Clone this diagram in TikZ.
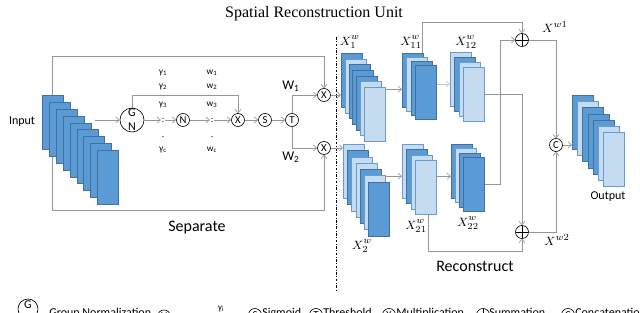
\documentclass[tikz,border=0pt]{standalone}
\usepackage{fontspec}
\setmainfont{Liberation Serif}
\setsansfont{Carlito}
\usetikzlibrary{arrows.meta,positioning}
\usepackage{xcolor}
\definecolor{mapdark}{RGB}{91,155,213}
\definecolor{mapdarkline}{RGB}{65,113,156}
\definecolor{maplight}{RGB}{197,220,240}
\definecolor{maplightline}{RGB}{105,155,205}
\definecolor{wiregray}{RGB}{150,150,150}
\tikzset{
    fmap/.style={
        draw=#1line,fill=#1,line width=0.6pt,inner sep=0pt,
        minimum width=15.75pt,minimum height=40.5pt,anchor=north west
    },
    fmd/.style={fmap=mapdark},
    fml/.style={fmap=maplight},
    op/.style={
        circle,draw=black,fill=white,line width=0.5pt,inner sep=0pt,
        minimum size=9.75pt,font=\sffamily\fontsize{8}{9}\selectfont
    },
    sumop/.style={
        op,path picture={
            \draw[line width=0.5pt] (path picture bounding box.north) -- (path picture bounding box.south)
                (path picture bounding box.west) -- (path picture bounding box.east);
        }
    },
    wire/.style={draw=wiregray,line width=0.5pt},
    arrow/.style={wire,-{Straight Barb[length=2.5pt,width=4.5pt]}},
    lab/.style={font=\sffamily\fontsize{9}{11}\selectfont,inner sep=1pt},
    biglab/.style={font=\sffamily\fontsize{12}{14}\selectfont,inner sep=1pt},
    coef/.style={font=\sffamily\fontsize{7}{8}\selectfont,inner sep=0.5pt},
    xlab/.style={font=\fontsize{9.5}{10}\selectfont,inner sep=0.5pt},
    legtext/.style={font=\sffamily\fontsize{9}{11}\selectfont,inner sep=0pt,anchor=base west}
}
% stack of feature maps: name, x, y, dx, dy, colours (d/l)
\newcommand{\mapstack}[6]{%
    \foreach \c [count=\i] in {#6}
        \node[fm\c] (#1-\i) at ({#2+(\i-1)*#4},{#3+(\i-1)*#5}) {};
}

\begin{document}
\begin{tikzpicture}[x=0.75pt,y=-0.75pt]
\useasboundingbox (0,0) rectangle (640,313);
\clip (0,0) rectangle (640,313);

\node[font=\fontsize{12}{14}\selectfont,anchor=base] (title) at (314,18) {Spatial Reconstruction Unit};

% separator
\coordinate (sepT) at (336,37);
\coordinate (sepB) at (336,290);
\draw[black,line width=0.5pt,dash pattern=on 2pt off 1.2pt on 0.5pt off 1.2pt] (sepT) -- (sepB);

% ---- Separate ----
\coordinate (boxTL) at (52,56);
\coordinate (boxBL) at (52,210);
\draw[wire] (boxTL) -- (boxBL);
\node[op] (mulA) at (324,95) {X};
\node[op] (mulB) at (324,148) {X};
\draw[arrow] (boxTL) -| (mulA);
\draw[arrow] (boxBL) -| (mulB);

\mapstack{inp}{42}{95}{6.9}{6.9}{d,d,d,d,d,d,d,d,d}
\node[lab] (inplab) at (22,122) {Input};

\node[op,minimum size=18pt] (gn) at (132,120) {};
\node[lab,inner sep=0pt] (gnG) at (132,113) {G};
\node[lab,inner sep=0pt] (gnN) at (132,127) {N};
\coordinate (inpR) at (95,120);
\draw[arrow] (inpR) -- (gn);

\node[coef] (g1) at (163,73) {γ\textsubscript{1}};
\node[coef] (g2) at (163,87) {γ\textsubscript{2}};
\node[coef] (g3) at (163,105) {γ\textsubscript{3}};
\node[coef] (gdots) at (163,120) {:};
\node[coef] (gdot) at (163,137) {.};
\node[coef] (gc) at (163,150) {γ\textsubscript{c}};

\node[coef] (w1) at (212,73) {w\textsubscript{1}};
\node[coef] (w2) at (212,87) {w\textsubscript{2}};
\node[coef] (w3) at (212,105) {w\textsubscript{3}};
\node[coef] (wdots) at (212,120) {:};
\node[coef] (wdot) at (212,137) {.};
\node[coef] (wc) at (212,150) {w\textsubscript{c}};

\node[op] (nrm) at (183,120) {N};
\node[op] (mul) at (238,120) {X};
\node[op] (sig) at (265,120) {S};
\node[op] (thr) at (292,120) {T};

\draw[arrow] (gn) -- (gdots);
\draw[arrow] (gdots) -- (nrm);
\draw[arrow] (nrm) -- (wdots);
\draw[arrow] (wdots) -- (mul);
\draw[arrow] (mul) -- (sig);
\draw[arrow] (sig) -- (thr);
\coordinate (gnup) at (132,95);
\draw[arrow] (gn) -- (gnup) -| (mul);

\draw[arrow] (thr) |- (mulA);
\draw[arrow] (thr) |- (mulB);
\node[lab,font=\sffamily\fontsize{10}{12}\selectfont] (w1lab) at (291,86) {W\textsubscript{1}};
\node[lab,font=\sffamily\fontsize{10}{12}\selectfont] (w2lab) at (291,157) {W\textsubscript{2}};
\node[biglab] (seplab) at (197,228) {Separate};

% ---- Reconstruct ----
\mapstack{xone}{341}{53}{3.8}{5.7}{d,l,d,d,d,l,l}
\mapstack{xonea}{402}{53}{4.3}{4}{d,l,d,d}
\mapstack{xoneb}{450}{52}{4.3}{5}{l,d,l,l}
\mapstack{xtwo}{343}{144}{4.2}{6.3}{l,d,l,l,d,l,d}
\mapstack{xtwoa}{402}{144}{4.3}{5.3}{l,d,l,l}
\mapstack{xtwob}{451}{144}{4}{4.3}{d,l,d,d}
\mapstack{outp}{572}{95}{5.2}{6.2}{d,l,d,d,d,l,l}

\draw[arrow] (mulA) -- (mulA -| xone-1.west);
\draw[arrow] (mulB) -- (mulB -| xtwo-1.west);

\coordinate (a1) at ([yshift=-1.5pt]xone-7.north east);
\draw[arrow] (a1) -- (a1 -| xonea-1.west);
\coordinate (a2) at ([yshift=6.4pt]xonea-4.east);
\draw[arrow,draw=wiregray!55] (a2) -- (a2 -| xoneb-1.west);
\coordinate (b1) at ([yshift=-0.5pt]xtwo-6.north east);
\draw[arrow] (b1) -- (b1 -| xtwoa-1.west);
\coordinate (b2) at ([yshift=8.25pt]xtwoa-4.east);
\draw[arrow] (b2) -- (b2 -| xtwob-1.west);

\node[sumop] (sumA) at (522,40) {};
\node[sumop] (sumB) at (522,232) {};
\node[op] (cat) at (556,145) {C};

\draw[arrow] ([xshift=-1pt]xonea-1.north east) -- ++(0,-31) -| (sumA);
\draw[arrow] (xoneb-4.east) -| (sumB);
\draw[arrow] (xtwob-4.east) -- ++(16,0) |- (sumA);
\draw[arrow] ([xshift=2pt]xtwoa-4.south) -- ++(0,37) -| (sumB);
\draw[arrow] (sumA) -| (cat);
\draw[arrow] (sumB) -| (cat);
\draw[arrow] (cat) -- (cat -| outp-1.west);

\node[xlab] (xonelab) at (350,42) {$X_1^w$};
\node[xlab] (xonealab) at (411,42) {$X_{11}^w$};
\node[xlab] (xoneblab) at (466,42) {$X_{12}^w$};
\node[xlab] (xtwolab) at (362,246) {$X_2^w$};
\node[xlab] (xtwoalab) at (416,226) {$X_{21}^w$};
\node[xlab] (xtwoblab) at (468,223) {$X_{22}^w$};
\node[xlab] (xwonelab) at (555,27) {$X^{w1}$};
\node[xlab] (xwtwolab) at (557,240) {$X^{w2}$};

\node[biglab] (reclab) at (475,266) {Reconstruct};
\node[lab] (outlab) at (608,197) {Output};

% ---- legend ----
\node[op,minimum size=15pt] (lgG) at (28,309) {};
\node[lab,inner sep=0pt] (lgGl) at (28,305) {G};
\node[legtext] (lgGt) at (49,316.7) {Group Normalization};
\node[op] (lgN) at (164,316.5) {N};
\node[coef] (lggam) at (221,309) {γ\textsubscript{\itshape i}};
\node[op] (lgS) at (255,315) {S};
\node[legtext] (lgSt) at (262,316.7) {Sigmoid};
\node[op] (lgT) at (316,315) {T};
\node[legtext] (lgTt) at (323,316.7) {Threshold};
\node[op] (lgX) at (389,315) {X};
\node[legtext] (lgXt) at (396,316.7) {Multiplication};
\node[sumop] (lgP) at (483,315) {};
\node[legtext] (lgPt) at (489,316.7) {Summation};
\node[op] (lgC) at (568,315) {C};
\node[legtext] (lgCt) at (575,316.7) {Concatenation};

\end{tikzpicture}
\end{document}
